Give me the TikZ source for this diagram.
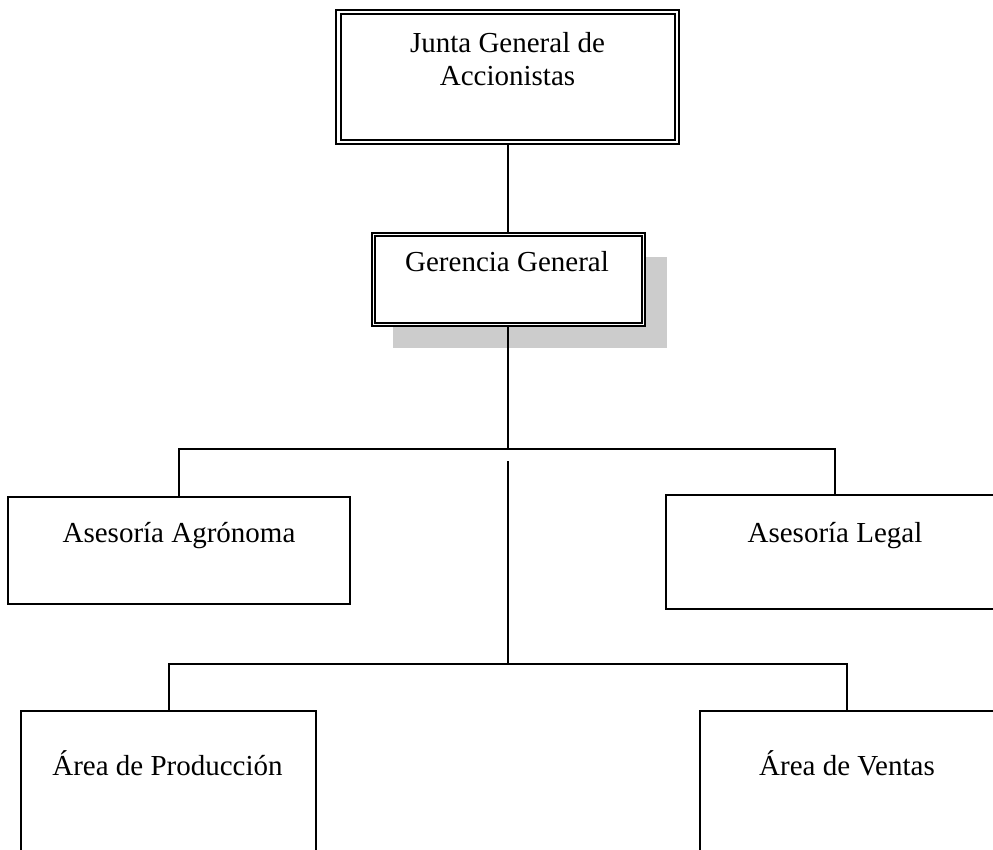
\documentclass[tikz,border=0pt]{standalone}
\usepackage{fontspec}
\setmainfont{Liberation Serif}
\begin{document}
\begin{tikzpicture}[x=1pt,y=-1pt,
  box/.style={draw=black, line width=2pt, fill=white, inner sep=0pt},
  innerframe/.style={draw=black, line width=1.2pt},
  shadowfill/.style={fill=black!20, draw=none},
  link/.style={draw=black, line width=2pt},
  lbl/.style={font=\fontsize{29}{33}\selectfont, align=center, inner sep=0pt}]
\useasboundingbox (0,0) rectangle (993,850);
\fill[white] (0,0) rectangle (993,850);
\clip (0,0) rectangle (993,850);

% --- Junta General de Accionistas (double frame)
\node[box, minimum width=343pt, minimum height=134pt] (junta) at (507.5,77) {};
\draw[innerframe] ([shift={(6pt,-5pt)}]junta.north west) rectangle ([shift={(-5pt,5pt)}]junta.south east);
% anchor=base sits on the last line of a multi-line label
\node[lbl, anchor=base] (juntaT) at (507.5,86) {Junta General de\\Accionistas};

% --- Gerencia General (double frame with drop shadow)
\fill[shadowfill] (393,257) rectangle (667,348);
\node[box, minimum width=273pt, minimum height=93pt] (ger) at (508.5,279.5) {};
\draw[innerframe] ([shift={(4pt,-4pt)}]ger.north west) rectangle ([shift={(-4pt,4pt)}]ger.south east);
\node[lbl, anchor=base] (gerT) at (507,272) {Gerencia General};

% --- advisory boxes
\node[box, minimum width=342pt, minimum height=107pt] (agro) at (179,550.5) {};
\node[lbl, anchor=base] (agroT) at (179,542) {Asesoría Agrónoma};
\node[box, minimum width=338pt, minimum height=114pt] (legal) at (835,552) {};
\node[lbl, anchor=base] (legalT) at (835,542) {Asesoría Legal};

% --- operating areas
\node[box, minimum width=295pt, minimum height=180pt] (prod) at (168.5,801) {};
\node[lbl, anchor=base] (prodT) at (167.5,775) {Área de Producción};
\node[box, minimum width=294pt, minimum height=180pt] (vent) at (847,801) {};
\node[lbl, anchor=base] (ventT) at (847,775) {Área de Ventas};

% --- connectors
\coordinate (j1) at (508,449);
\coordinate (j2) at (508,461);
\coordinate (j3) at (508,664);
\draw[link] (junta.south -| j1) -- (ger.north -| j1);
\draw[link] (ger.south -| j1) -- (j1);
\draw[link] (agro.north) -- (agro.north |- j1) -- (legal.north |- j1) -- (legal.north);
\draw[link] (j2) -- (j3);
\draw[link] (prod.north) -- (prod.north |- j3) -- (vent.north |- j3) -- (vent.north);
\end{tikzpicture}
\end{document}
